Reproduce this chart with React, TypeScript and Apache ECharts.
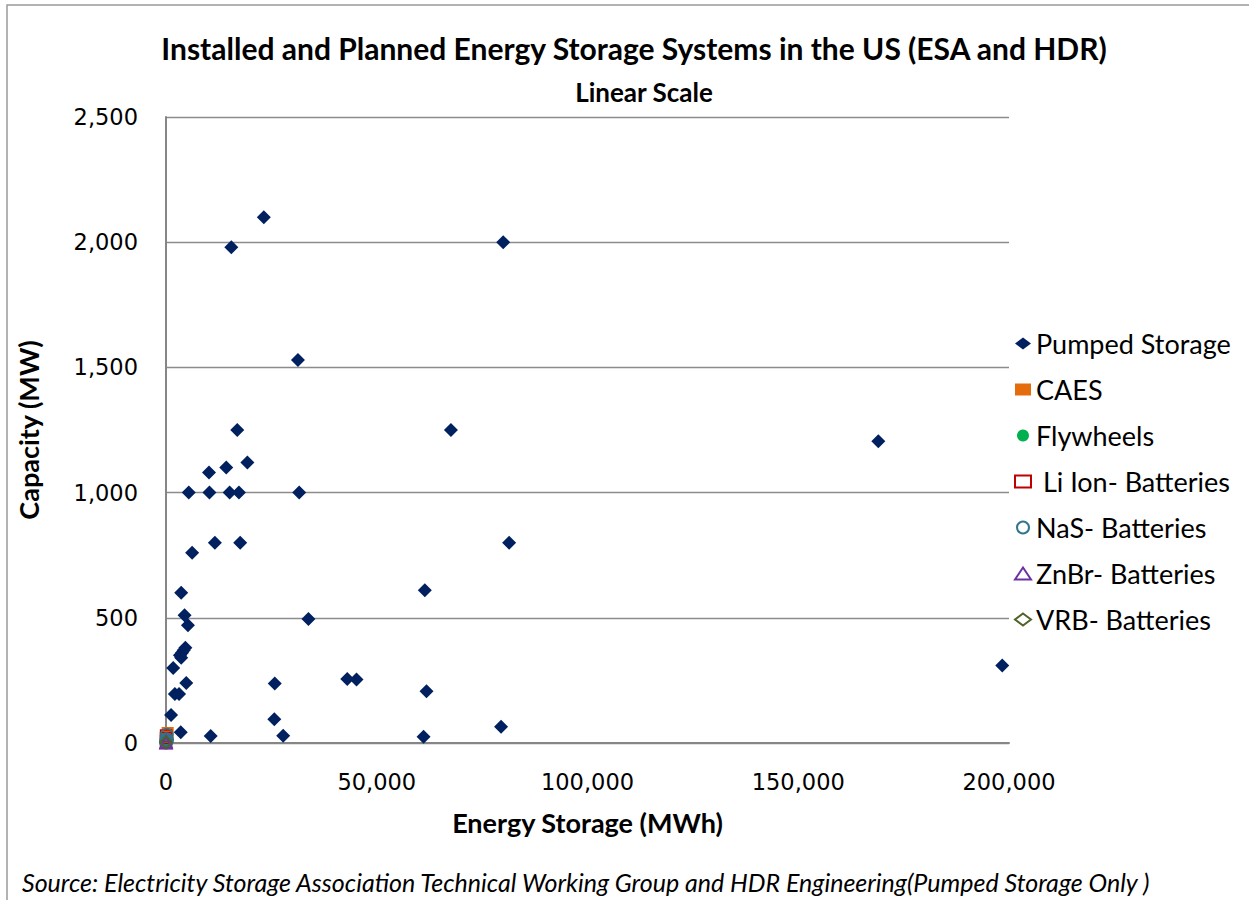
import React, { useEffect, useRef } from "react";
import * as echarts from "echarts";

const seriesNames = [
  "Pumped Storage",
  "CAES",
  "Flywheels",
  " Li Ion- Batteries",
  "NaS- Batteries",
  "ZnBr- Batteries",
  "VRB- Batteries",
];

// [Energy Storage (MWh), Capacity (MW)]
const pumpedStorage: [number, number][] = [
  [23200, 2100],
  [15500, 1980],
  [80000, 2000],
  [31300, 1530],
  [67600, 1250],
  [16900, 1250],
  [169000, 1205],
  [10200, 1080],
  [14300, 1100],
  [19300, 1120],
  [5400, 1000],
  [10300, 1000],
  [15100, 1000],
  [17300, 1000],
  [31600, 1000],
  [11600, 800],
  [17600, 800],
  [81400, 800],
  [6200, 760],
  [3600, 600],
  [61400, 610],
  [4400, 510],
  [33800, 495],
  [5200, 470],
  [4600, 380],
  [4200, 370],
  [3800, 360],
  [3300, 350],
  [3600, 340],
  [1700, 300],
  [198400, 310],
  [4800, 240],
  [25800, 238],
  [43000, 256],
  [45200, 254],
  [2100, 196],
  [3100, 196],
  [61800, 207],
  [1200, 112],
  [25700, 95],
  [79500, 65],
  [3500, 43],
  [10600, 28],
  [27800, 29],
  [61100, 25],
];
const caes: [number, number][] = [[400, 40]];
const flywheels: [number, number][] = [[5, 20], [2, 2]];
const liIonBatteries: [number, number][] = [[10, 20], [4, 8], [20, 30]];
const nasBatteries: [number, number][] = [[7, 1], [40, 6], [50, 8], [100, 16], [200, 34], [300, 12]];
const znbrBatteries: [number, number][] = [[2, 1], [4, 2], [50, 5]];
const vrbBatteries: [number, number][] = [[8, 2], [12, 4]];

const xTicks = [0, 50000, 100000, 150000, 200000];
const yTicks = [0, 500, 1000, 1500, 2000, 2500];

const titleText = "Installed and Planned Energy Storage Systems in the US (ESA and HDR)";
const subtitleText = "Linear Scale";
const xAxisTitle = "Energy Storage (MWh)";
const yAxisTitle = "Capacity (MW)";
const sourceText =
  "Source: Electricity Storage Association Technical Working Group and HDR Engineering(Pumped Storage Only )";

const FONT = "Lato, 'Open Sans', sans-serif";
const TICK_FONT = "'DejaVu Sans', Verdana, sans-serif";

export default function App() {
  const ref = useRef<HTMLDivElement>(null);

  useEffect(() => {
    if (!ref.current) return;
    const chart = echarts.init(ref.current, undefined, { renderer: "svg" });
    const fmt = (v: number) => v.toLocaleString("en-US");
    const hollow = (c: string) => ({
      color: "rgba(255,255,255,0)",
      borderColor: c,
      borderWidth: 1.5,
      opacity: 1,
    });

    chart.setOption({
      animation: false,
      backgroundColor: "#ffffff",
      title: [
        {
          text: titleText,
          left: 629,
          top: 28,
          textAlign: "center",
          textStyle: { fontFamily: FONT, fontSize: 30, fontWeight: "bold", color: "#000" },
        },
        {
          text: subtitleText,
          left: 639,
          top: 74,
          textAlign: "center",
          textStyle: { fontFamily: FONT, fontSize: 26, fontWeight: "bold", color: "#000" },
        },
      ],
      grid: { left: 166, right: 240, top: 117, bottom: 157, containLabel: false },
      legend: {
        orient: "vertical",
        left: 1009,
        top: 325,
        padding: 5,
        itemWidth: 16,
        itemHeight: 12,
        itemGap: 19,
        data: seriesNames,
        textStyle: { fontFamily: FONT, fontSize: 27, color: "#000" },
      },
      xAxis: {
        type: "value",
        min: xTicks[0],
        max: xTicks[xTicks.length - 1],
        interval: xTicks[1] - xTicks[0],
        name: xAxisTitle,
        nameLocation: "middle",
        nameGap: 66,
        nameTextStyle: { fontFamily: FONT, fontSize: 27, fontWeight: "bold", color: "#000" },
        axisLine: { show: true, lineStyle: { color: "#868686", width: 2 } },
        axisTick: { show: false },
        splitLine: { show: false },
        axisLabel: { formatter: fmt, margin: 27, fontFamily: TICK_FONT, fontSize: 22.5, color: "#000" },
      },
      yAxis: {
        type: "value",
        min: yTicks[0],
        max: yTicks[yTicks.length - 1],
        interval: yTicks[1] - yTicks[0],
        name: yAxisTitle,
        nameLocation: "middle",
        nameRotate: 90,
        nameGap: 124,
        nameTextStyle: { fontFamily: FONT, fontSize: 27, fontWeight: "bold", color: "#000" },
        axisLine: { show: true, lineStyle: { color: "#868686", width: 2 } },
        axisTick: { show: false },
        splitLine: { show: true, lineStyle: { color: "#8c8c8c", width: 1.3 } },
        axisLabel: { formatter: fmt, margin: 28, fontFamily: TICK_FONT, fontSize: 22.5, color: "#000" },
      },
      graphic: [
        {
          type: "rect",
          shape: { x: 7, y: 5, width: 1400, height: 1100 },
          style: { fill: "none", stroke: "#9a9a9a", lineWidth: 1.5 },
          silent: true,
        },
        {
          type: "text",
          x: 22,
          y: 882,
          style: {
            text: sourceText,
            font: `italic 25px ${FONT}`,
            fill: "#000",
            textAlign: "left",
            textVerticalAlign: "middle",
          },
          silent: true,
        },
      ],
      series: [
        {
          name: seriesNames[0],
          type: "scatter",
          symbol: "diamond",
          symbolSize: 14,
          itemStyle: { color: "#002060", opacity: 1 },
          data: pumpedStorage,
        },
        {
          name: seriesNames[1],
          type: "scatter",
          symbol: "rect",
          symbolSize: 12,
          itemStyle: { color: "#E46C0A", opacity: 1 },
          data: caes,
        },
        {
          name: seriesNames[2],
          type: "scatter",
          symbol: "circle",
          symbolSize: 12,
          itemStyle: { color: "#00B050", opacity: 1 },
          data: flywheels,
        },
        {
          name: seriesNames[3],
          type: "scatter",
          symbol: "rect",
          symbolSize: 11,
          itemStyle: hollow("#C00000"),
          data: liIonBatteries,
        },
        {
          name: seriesNames[4],
          type: "scatter",
          symbol: "circle",
          symbolSize: 12,
          itemStyle: hollow("#31748F"),
          data: nasBatteries,
        },
        {
          name: seriesNames[5],
          type: "scatter",
          symbol: "triangle",
          symbolSize: 12,
          itemStyle: hollow("#7030A0"),
          data: znbrBatteries,
        },
        {
          name: seriesNames[6],
          type: "scatter",
          symbol: "diamond",
          symbolSize: 12,
          itemStyle: hollow("#4F6228"),
          data: vrbBatteries,
        },
      ],
    });

    return () => chart.dispose();
  }, []);

  return (
    <div
      ref={ref}
      style={{ position: "absolute", left: 0, top: 0, width: 1249, height: 900 }}
    />
  );
}
